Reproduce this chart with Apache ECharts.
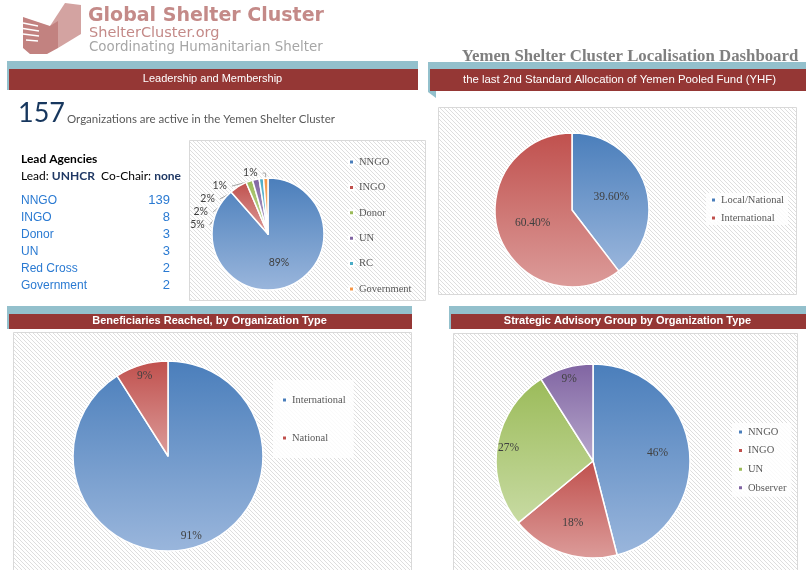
<!DOCTYPE html>
<html>
<head>
<meta charset="utf-8">
<title>Yemen Shelter Cluster Localisation Dashboard</title>
<script src="https://cdn.jsdelivr.net/npm/echarts@6/dist/echarts.min.js"></script>
<style>
html, body { margin: 0; padding: 0; background: #fff; }
#main { width: 806px; height: 570px; }
</style>
</head>
<body>
<div id="main"></div>
<script>
// 成员组织
const memberTypes = ['NNGO', 'INGO', 'Donor', 'UN', 'Red Cross', 'Government'];
const memberNames = ['NNGO', 'INGO', 'Donor', 'UN', 'RC', 'Government'];
const memberCounts = [139, 8, 3, 3, 2, 2];

// YHF 第二次标准拨款
const allocationNames = ['Local/National', 'International'];
const allocationShare = [39.6, 60.4];

// 受益人
const beneficiaryNames = ['International', 'National'];
const beneficiaryShare = [91, 9];

// 战略咨询小组
const sagNames = ['NNGO', 'INGO', 'UN', 'Observer'];
const sagShare = [46, 18, 27, 9];

// 颜色 (上, 下)
const palette = {
    blue: ['#4a7ebb', '#9ab6dc'],
    red: ['#c0504d', '#dc9c9a'],
    green: ['#9bbb59', '#c8dba3'],
    purple: ['#8064a2', '#b7a8cc'],
    aqua: ['#4bacc6', '#93cddd'],
    orange: ['#f79646', '#fac090']
};
const memberColors = ['blue', 'red', 'green', 'purple', 'aqua', 'orange'];
const allocationColors = ['blue', 'red'];
const beneficiaryColors = ['blue', 'red'];
const sagColors = ['blue', 'red', 'green', 'purple'];

function grad(key) {
    const c = palette[key];
    return new echarts.graphic.LinearGradient(0, 0, 0, 1, [
        { offset: 0, color: c[0] },
        { offset: 1, color: c[1] }
    ]);
}

// 斜线底纹
function makeHatch() {
    const c = document.createElement('canvas');
    c.width = 4; c.height = 4;
    const ctx = c.getContext('2d');
    ctx.fillStyle = '#ffffff';
    ctx.fillRect(0, 0, 4, 4);
    ctx.strokeStyle = '#dedede';
    ctx.lineWidth = 1;
    ctx.beginPath(); ctx.moveTo(-1, -1); ctx.lineTo(5, 5); ctx.stroke();
    ctx.beginPath(); ctx.moveTo(3, -1); ctx.lineTo(5, 1); ctx.stroke();
    ctx.beginPath(); ctx.moveTo(-1, 3); ctx.lineTo(1, 5); ctx.stroke();
    return c;
}
const hatch = { image: makeHatch(), repeat: 'repeat' };

const serif = 'Liberation Serif';
const sans = 'Liberation Sans';

function pieData(names, values, colors) {
    return names.map((n, i) => ({ name: n, value: values[i], itemStyle: { color: grad(colors[i]) } }));
}
function legendData(names, colors) {
    return names.map((n, i) => ({ name: n, itemStyle: { color: palette[colors[i]][0] } }));
}

// 标题条
function band(x, y, w, h, text, bold, textY) {
    return [
        { type: 'rect', shape: { x: x, y: y, width: w, height: h }, style: { fill: '#93c0cc' } },
        { type: 'rect', shape: { x: x + 2, y: y + 8, width: w - 2, height: h - 8 }, style: { fill: '#953735' } },
        { type: 'text', x: x + w / 2, y: textY, style: {
            text: text, fill: '#fff', font: (bold ? 'bold ' : '') + '11px ' + sans,
            align: 'center', verticalAlign: 'middle' } }
    ];
}

function box(x, y, w, h) {
    return { type: 'rect', shape: { x: x, y: y, width: w, height: h },
        style: { fill: hatch, stroke: '#d9d9d9', lineWidth: 1 } };
}

const graphics = [];

// Logo
graphics.push(
    { type: 'polygon', shape: { points: [[50, 26], [65, 3], [81, 5], [81, 34], [58, 48]] }, style: { fill: '#d3a3a1' } },
    { type: 'polygon', shape: { points: [[23, 17], [50, 26], [58, 21], [58, 48], [47, 54], [30, 54], [23, 48]] }, style: { fill: '#c28280' } },
    { type: 'line', shape: { x1: 23, y1: 23, x2: 38, y2: 26 }, style: { stroke: '#fff', lineWidth: 1.3 } },
    { type: 'line', shape: { x1: 23, y1: 28.5, x2: 39, y2: 31 }, style: { stroke: '#fff', lineWidth: 1.3 } },
    { type: 'line', shape: { x1: 23, y1: 34, x2: 39, y2: 36 }, style: { stroke: '#fff', lineWidth: 1.3 } },
    { type: 'line', shape: { x1: 26, y1: 40, x2: 38, y2: 41 }, style: { stroke: '#fff', lineWidth: 1.3 } },
    { type: 'text', x: 88, y: 16, style: { text: 'Global Shelter Cluster', fill: '#c48a88', font: 'bold 19px DejaVu Sans', verticalAlign: 'middle' } },
    { type: 'text', x: 89, y: 33, style: { text: 'ShelterCluster.org', fill: '#c48a88', font: '14.5px DejaVu Sans', verticalAlign: 'middle' } },
    { type: 'text', x: 89, y: 48, style: { text: 'Coordinating Humanitarian Shelter', fill: '#a6a6a6', font: '13.4px DejaVu Sans', verticalAlign: 'middle' } }
);

// 四个标题条
graphics.push(...band(7, 61, 411, 29, 'Leadership and Membership', false, 79));
graphics.push(
    { type: 'polygon', shape: { points: [[428, 62], [806, 62], [806, 70], [436, 70], [436, 98], [428, 92]] }, style: { fill: '#93c0cc' } },
    { type: 'rect', shape: { x: 430, y: 69, width: 376, height: 22 }, style: { fill: '#953735' } },
    { type: 'text', x: 463, y: 80, style: { text: 'the last 2nd Standard Allocation of Yemen Pooled Fund (YHF)', fill: '#fff', font: '11.4px ' + sans, verticalAlign: 'middle' } },
    { type: 'text', x: 630, y: 57, style: { text: 'Yemen Shelter Cluster Localisation Dashboard', fill: '#7f7f7f', font: 'bold 16.8px ' + serif, align: 'center', verticalAlign: 'middle' } }
);
graphics.push(...band(7, 306, 405, 23, 'Beneficiaries Reached, by Organization Type', true, 321));
graphics.push(...band(449, 306, 357, 23, 'Strategic Advisory Group by Organization Type', true, 321));

// 图表底框
graphics.push(box(189.5, 140.5, 236, 160), box(438.5, 107.5, 358, 187), box(13.5, 332.5, 398, 240), box(453.5, 333.5, 344, 240));

// 157 个组织
graphics.push(
    { type: 'text', x: 18, y: 113, style: { text: '157', fill: '#17375e', font: '27px Lato', verticalAlign: 'middle' } },
    { type: 'text', x: 67, y: 119, style: { text: 'Organizations are active in the Yemen Shelter Cluster', fill: '#595959', font: '11.5px Lato', verticalAlign: 'middle' } },
    { type: 'text', x: 21, y: 159, style: { text: 'Lead Agencies', fill: '#000', font: 'bold 12px Lato', verticalAlign: 'middle' } },
    { type: 'text', x: 21, y: 176, style: {
        text: 'Lead: {b|UNHCR}  Co-Chair: {b|none}', fill: '#000', font: '12px Lato', verticalAlign: 'middle',
        rich: { b: { fontWeight: 'bold', fill: '#1f3864', fontFamily: 'Lato', fontSize: 12 } } } }
);
memberTypes.forEach((t, i) => {
    const y = 201 + i * 17;
    graphics.push(
        { type: 'text', x: 21, y: y, style: { text: t, fill: '#2a7ad2', font: '12px ' + sans, verticalAlign: 'middle' } },
        { type: 'text', x: 170, y: y - 1, style: { text: String(memberCounts[i]), fill: '#2a7ad2', font: '13px ' + sans, align: 'right', verticalAlign: 'middle' } }
    );
});

const chart = echarts.init(document.getElementById('main'), null, { renderer: 'canvas' });

const legendText = { fontFamily: serif, fontSize: 10.5, color: '#595959', lineHeight: 12 };
const labelText = { fontFamily: serif, fontSize: 11.5, color: '#404040' };
const border = { borderColor: '#fff', borderWidth: 1.5 };

function labelOverlay(center, radius, names, values, showIdx) {
    return {
        type: 'pie', center: center, radius: radius, silent: true, z: 5,
        animation: false, percentPrecision: 0,
        label: Object.assign({ position: 'inside', formatter: '{d}%' }, labelText),
        labelLine: { show: false },
        data: names.map((n, i) => ({
            name: n, value: values[i],
            itemStyle: { color: 'rgba(0,0,0,0)', borderWidth: 0 },
            label: { show: showIdx.indexOf(i) >= 0 }
        }))
    };
}

chart.setOption({
    animation: false,
    backgroundColor: '#fff',
    graphic: { elements: graphics },
    legend: [
        { data: legendData(memberNames, memberColors), orient: 'vertical', left: 348, top: 156, padding: 0,
          itemWidth: 5, itemHeight: 5, itemGap: 13.4, icon: 'rect', textStyle: legendText },
        { data: legendData(allocationNames, allocationColors), orient: 'vertical', left: 706, top: 193, padding: [1, 4],
          itemWidth: 5, itemHeight: 5, itemGap: 6, icon: 'rect', textStyle: legendText, backgroundColor: 'rgba(255,255,255,0.85)' },
        { data: legendData(beneficiaryNames, beneficiaryColors), orient: 'vertical', left: 273, top: 380, padding: [14, 8],
          itemWidth: 5, itemHeight: 5, itemGap: 26, icon: 'rect', textStyle: legendText, backgroundColor: 'rgba(255,255,255,0.85)' },
        { data: legendData(sagNames, sagColors), orient: 'vertical', left: 732, top: 423, padding: [3, 5],
          itemWidth: 5, itemHeight: 5, itemGap: 6.6, icon: 'rect', textStyle: legendText, backgroundColor: 'rgba(255,255,255,0.85)' }
    ],
    series: [
        {
            type: 'pie', center: [268, 234], radius: 56, percentPrecision: 0,
            itemStyle: border,
            label: { formatter: '{d}%', fontFamily: 'Lato', fontSize: 10.5, color: '#404040', lineHeight: 10 },
            labelLine: { length: 5, length2: 3, lineStyle: { color: '#a6a6a6', width: 1 } },
            data: pieData(memberNames, memberCounts, memberColors).map((d, i) => {
                d.label = { position: i === 0 ? 'inside' : 'outside' };
                return d;
            })
        },
        {
            type: 'pie', center: [572, 210], radius: 77,
            itemStyle: border,
            label: Object.assign({ position: 'inside', formatter: p => p.value.toFixed(2) + '%' }, labelText),
            data: pieData(allocationNames, allocationShare, allocationColors)
        },
        {
            type: 'pie', center: [168, 456], radius: 95,
            itemStyle: border, label: { show: false },
            data: pieData(beneficiaryNames, beneficiaryShare, beneficiaryColors)
        },
        labelOverlay([168, 456], [66, 95], beneficiaryNames, beneficiaryShare, [0, 1]),
        {
            type: 'pie', center: [593, 461], radius: 97,
            itemStyle: border, label: { show: false },
            data: pieData(sagNames, sagShare, sagColors)
        },
        labelOverlay([593, 461], [27, 97], sagNames, sagShare, [0, 1]),
        labelOverlay([593, 461], [68, 97], sagNames, sagShare, [2, 3])
    ]
});
</script>
</body>
</html>
